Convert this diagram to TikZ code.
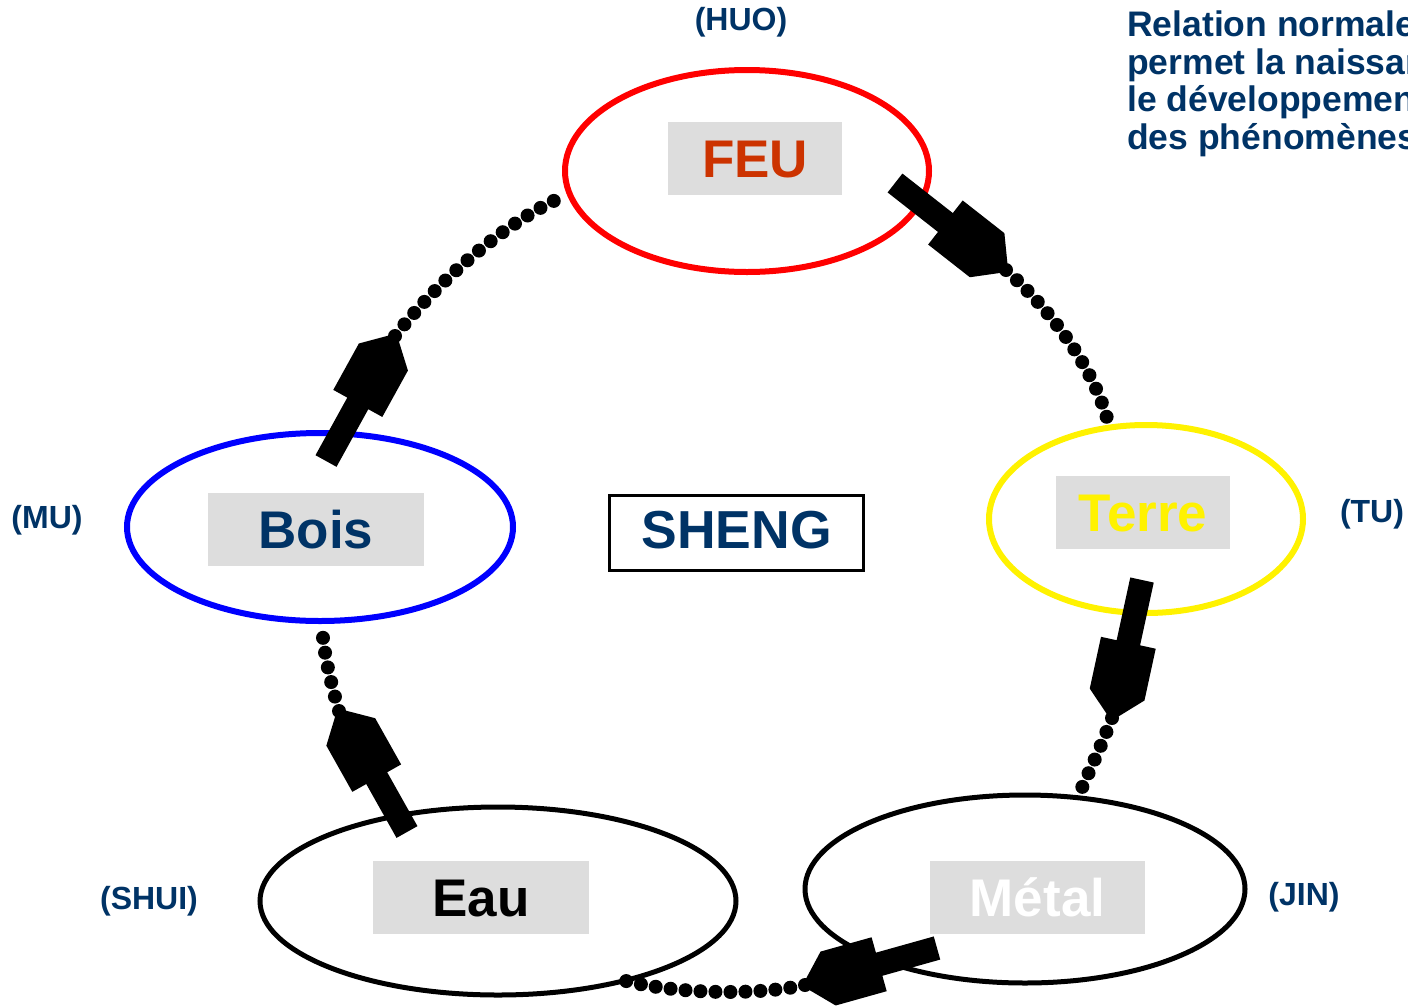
\documentclass[tikz,border=0pt]{standalone}
\usepackage{fontspec}
\setmainfont{Liberation Sans}
\usetikzlibrary{shapes.geometric,calc}
\definecolor{navy}{HTML}{003366}
\definecolor{feured}{HTML}{CC3300}
\definecolor{boxgray}{HTML}{DDDDDD}
\newcommand\blockarr[2]{%
  \coordinate (ba1) at ($(#2)!77pt!(#1)$);
  \coordinate (ba2) at ($(#2)!24pt!(#1)$);
  \fill[black] ($(#1)!12pt!90:(#2)$) -- ($(ba1)!12pt!90:(#2)$) -- ($(ba1)!28pt!90:(#2)$)
    -- ($(ba2)!28pt!90:(#2)$) -- ($(#2)!3pt!-90:(#1)$) -- ($(#2)!3pt!90:(#1)$)
    -- ($(ba2)!28pt!-90:(#2)$) -- ($(ba1)!28pt!-90:(#2)$) -- ($(ba1)!12pt!-90:(#2)$)
    -- ($(#1)!12pt!-90:(#2)$) -- cycle;
}
\begin{document}
\begin{tikzpicture}[x=1pt,y=-1pt,
  elem/.style={ellipse, draw, inner sep=0pt},
  lbl/.style={fill=boxgray, inner sep=0pt, minimum height=73pt, text height=37.9pt, text depth=0pt, font=\fontsize{53}{53}\selectfont\bfseries},
  tag/.style={text=navy, font=\fontsize{32}{32}\selectfont\bfseries, inner sep=0pt},
  dots/.style={line width=14pt, line cap=round, dash pattern=on 0pt off 15pt}]
\useasboundingbox (0,0) rectangle (1408,1007);
\clip (0,0) rectangle (1408,1007);

% element ellipses
\node[elem, draw=red, line width=6pt, minimum width=364pt, minimum height=202pt] (feu) at (747,171) {};
\node[elem, draw=yellow, line width=6pt, minimum width=314pt, minimum height=188pt] (terre) at (1146,519) {};
\node[elem, draw=blue, line width=6pt, minimum width=386pt, minimum height=188pt] (bois) at (320,527) {};
\node[elem, draw=black, line width=5pt, minimum width=476pt, minimum height=188pt] (eau) at (498,901) {};
\node[elem, draw=black, line width=5pt, minimum width=440pt, minimum height=188pt] (metal) at (1025,889) {};

% label boxes
\node[lbl, minimum width=174pt, text=feured] (lfeu) at (755,158.5) {FEU};
\node[lbl, minimum width=174pt, text=yellow] (lterre) at (1143,512.5) {Terre};
\node[lbl, minimum width=216pt, text=navy] (lbois) at (316,529.5) {Bois};
\node[lbl, minimum width=216pt, text=black] (leau) at (481,897.5) {Eau};
\node[lbl, minimum width=215pt, text=white] (lmetal) at (1037.5,897.5) {Métal};

% centre box
\node[draw=black, line width=3pt, minimum width=254pt, minimum height=75pt, inner sep=0pt,
  text=navy, text height=38.3pt, text depth=8pt, font=\fontsize{53.5}{53.5}\selectfont\bfseries] (sheng) at (736.5,533) {SHENG};

% Chinese names
\node[tag] (huo) at (741,22) {(HUO)};
\node[tag] (mu) at (47,520) {(MU)};
\node[tag] (tu) at (1372,514) {(TU)};
\node[tag] (shui) at (149,901) {(SHUI)};
\node[tag] (jin) at (1304,897) {(JIN)};

% description (cut by the right edge, as in the original)
\node[anchor=north west, inner sep=0pt, align=left, text=navy,
  font=\fontsize{35.5}{37.5}\selectfont\bfseries] (rel) at (1127,11)
  {Relation normale\\permet la naissance\\le développement\\des phénomènes};

% arrow coordinates
\coordinate (t1) at (895,183);  \coordinate (h1) at (1006,270);
\coordinate (t2) at (1142,580); \coordinate (h2) at (1112,718);
\coordinate (t3) at (937,948);  \coordinate (h3) at (805,985);
\coordinate (t4) at (407,832);  \coordinate (h4) at (339,711);
\coordinate (t5) at (326,461);  \coordinate (h5) at (395,336);
% dotted ends on ellipses
\coordinate (e1) at (1107,418);
\coordinate (e2) at (1080,792);
\coordinate (e3) at (622,980);
\coordinate (e4) at (322,625);
\coordinate (e5) at (562,197);

% dotted links
\draw[dots] (h5) .. controls (435,285) and (500,225) .. (e5);
\draw[dots] (h1) .. controls (1045,305) and (1090,360) .. (e1);
\draw[dots] (h2) .. controls (1100,748) .. (e2);
\draw[dots] (h3) .. controls (760,995) and (680,995) .. (e3);
\draw[dots] (h4) .. controls (330,680) and (323,650) .. (e4);

% block arrows
\blockarr{t1}{h1}
\blockarr{t2}{h2}
\blockarr{t3}{h3}
\blockarr{t4}{h4}
\blockarr{t5}{h5}
\end{tikzpicture}
\end{document}
